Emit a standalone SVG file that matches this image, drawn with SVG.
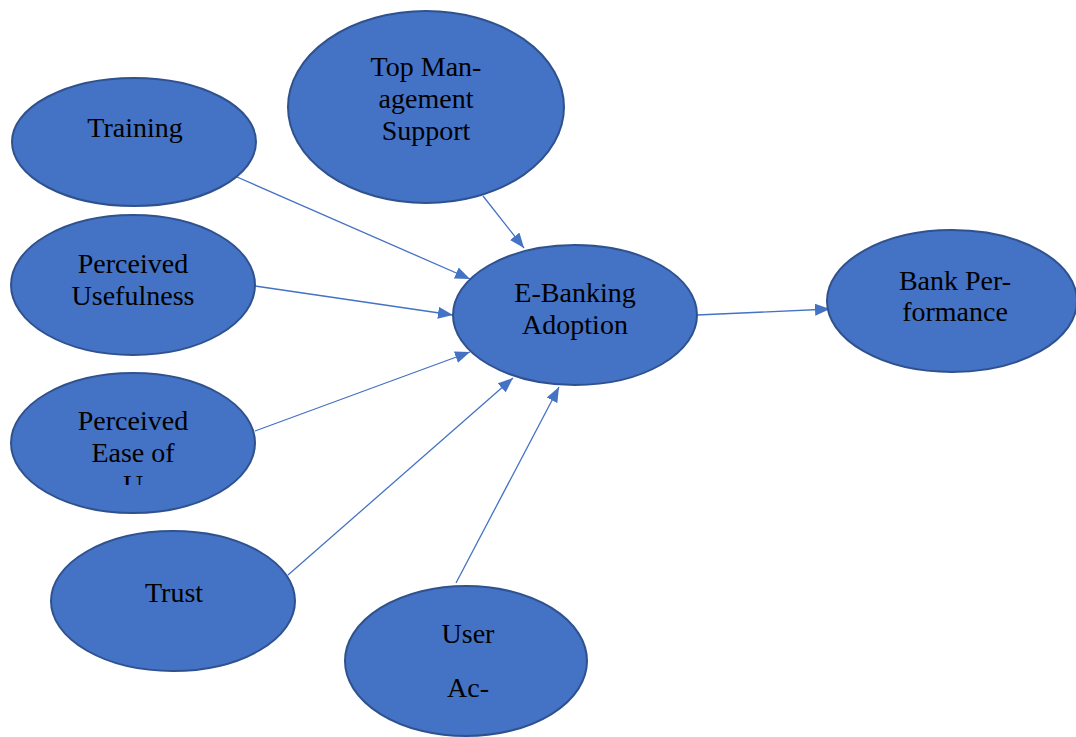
<svg xmlns="http://www.w3.org/2000/svg" width="1076" height="737" viewBox="0 0 1076 737">
<defs>
<style>
.n{fill:#4472C4;stroke:#2F528F;stroke-width:2}
.t{font-family:"Liberation Serif",serif;font-size:28px;fill:#000;text-anchor:middle}
.c{stroke:#4472C4;stroke-width:1.3;fill:none;marker-end:url(#ah)}
</style>
<marker id="ah" markerUnits="userSpaceOnUse" markerWidth="16" markerHeight="12" refX="15" refY="6" orient="auto">
<path d="M0,0 L15,6 L0,12 z" fill="#4472C4"/>
</marker>
<clipPath id="clipPEU"><rect x="0" y="360" width="300" height="125"/></clipPath>
</defs>
<rect width="1076" height="737" fill="#fff"/>
<g id="connectors">
<line class="c" x1="237" y1="177" x2="470" y2="279"/>
<line class="c" x1="483" y1="196" x2="524" y2="248"/>
<line class="c" x1="255" y1="286" x2="453" y2="315"/>
<line class="c" x1="255" y1="431" x2="470" y2="352"/>
<line class="c" x1="288" y1="575" x2="513" y2="378"/>
<line class="c" x1="456" y1="583" x2="559" y2="387"/>
<line class="c" x1="697" y1="315" x2="830" y2="309"/>
</g>
<g id="training">
<ellipse class="n" cx="134" cy="142" rx="122" ry="64"/>
<text class="t" x="135" y="137">Training</text>
</g>
<g id="top-management-support">
<ellipse class="n" cx="426" cy="107" rx="138" ry="96"/>
<text class="t" x="426" y="76">Top Man-</text>
<text class="t" x="426" y="108">agement</text>
<text class="t" x="426" y="140">Support</text>
</g>
<g id="perceived-usefulness">
<ellipse class="n" cx="133" cy="285" rx="122" ry="70"/>
<text class="t" x="133" y="273">Perceived</text>
<text class="t" x="133" y="305">Usefulness</text>
</g>
<g id="perceived-ease-of-use">
<ellipse class="n" cx="133" cy="443" rx="122" ry="70"/>
<g clip-path="url(#clipPEU)">
<text class="t" x="133" y="430">Perceived</text>
<text class="t" x="133" y="462">Ease of</text>
<text class="t" x="133" y="494">U</text>
</g>
</g>
<g id="trust">
<ellipse class="n" cx="173" cy="601" rx="122" ry="70"/>
<text class="t" x="174" y="602">Trust</text>
</g>
<g id="user-acceptance">
<ellipse class="n" cx="466" cy="661" rx="121" ry="75"/>
<text class="t" x="468" y="643">User</text>
<text class="t" x="468" y="697">Ac-</text>
</g>
<g id="e-banking-adoption">
<ellipse class="n" cx="575" cy="315" rx="122" ry="70"/>
<text class="t" x="575" y="302">E-Banking</text>
<text class="t" x="575" y="334">Adoption</text>
</g>
<g id="bank-performance">
<ellipse class="n" cx="952" cy="301" rx="125" ry="71"/>
<text class="t" x="955" y="290">Bank Per-</text>
<text class="t" x="955" y="321">formance</text>
</g>
</svg>
